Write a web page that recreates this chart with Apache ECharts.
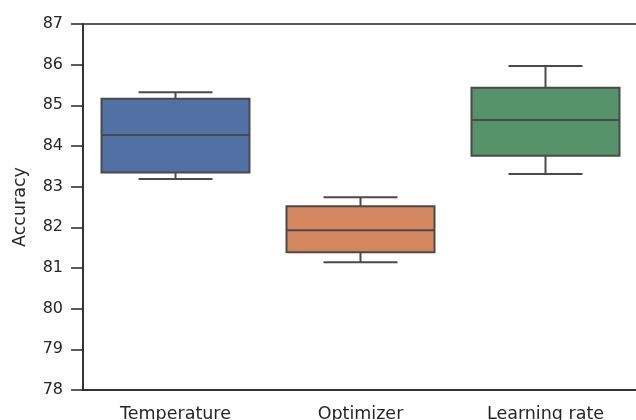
<!DOCTYPE html>
<html>
<head>
<meta charset="utf-8">
<script src="https://cdn.jsdelivr.net/npm/echarts@6/dist/echarts.min.js"></script>
<style>
  html, body { margin: 0; padding: 0; background: #fff; }
  #chart { width: 636px; height: 420px; }
</style>
</head>
<body>
<div id="chart"></div>
<script>
// categories and box stats
var categories = ['Temperature', 'Optimizer', 'Learning rate'];
// [lower whisker, Q1, median, Q3, upper whisker]
var boxStats = [
    [83.19, 83.35, 84.27, 85.16, 85.32],
    [81.14, 81.39, 81.93, 82.52, 82.74],
    [83.31, 83.76, 84.64, 85.43, 85.97]
];
var yTicks = [78, 79, 80, 81, 82, 83, 84, 85, 86, 87];

var boxColors = ['#5171a5', '#d4865f', '#56926a'];
var edgeColor = '#4a4a4a';

var seriesData = boxStats.map(function (s, i) {
    return [i].concat(s);
});

var dom = document.getElementById('chart');
var myChart = echarts.init(dom);

var option = {
    animation: false,
    grid: {
        left: 83,
        top: 24,
        width: 555,
        height: 366,
        outerBoundsMode: 'none',
        containLabel: false,
        show: true,
        borderColor: '#262626',
        borderWidth: 1.5,
        backgroundColor: 'transparent'
    },
    xAxis: {
        type: 'category',
        data: categories,
        axisLine: { lineStyle: { color: '#262626', width: 1.5 } },
        axisTick: { alignWithLabel: true, length: 9, lineStyle: { color: '#262626', width: 1.5 } },
        axisLabel: { fontFamily: 'DejaVu Sans', fontSize: 17.5, color: '#262626', margin: 15 },
        splitLine: { show: false }
    },
    yAxis: {
        type: 'value',
        min: yTicks[0],
        max: yTicks[yTicks.length - 1],
        interval: 1,
        name: 'Accuracy',
        nameLocation: 'middle',
        nameGap: 54,
        nameTextStyle: { fontFamily: 'DejaVu Sans', fontSize: 17.5, color: '#262626' },
        axisLine: { show: true, lineStyle: { color: '#262626', width: 1.5 } },
        axisTick: { show: true, length: 12, lineStyle: { color: '#262626', width: 1.5 } },
        axisLabel: { fontFamily: 'DejaVu Sans', fontSize: 16, color: '#262626', margin: 20 },
        splitLine: { show: false }
    },
    series: [{
        type: 'custom',
        data: seriesData,
        encode: { x: 0, y: [1, 2, 3, 4, 5] },
        renderItem: function (params, api) {
            var idx = api.value(0);
            var band = api.size([1, 0])[0];
            var half = band * 0.4;
            var capHalf = half / 2;
            var pLo = api.coord([idx, api.value(1)]);
            var pQ1 = api.coord([idx, api.value(2)]);
            var pMed = api.coord([idx, api.value(3)]);
            var pQ3 = api.coord([idx, api.value(4)]);
            var pHi = api.coord([idx, api.value(5)]);
            var cx = pMed[0];
            var line = { stroke: edgeColor, lineWidth: 2 };
            return {
                type: 'group',
                children: [
                    { type: 'line', shape: { x1: cx, y1: pQ1[1], x2: cx, y2: pLo[1] }, style: line },
                    { type: 'line', shape: { x1: cx, y1: pQ3[1], x2: cx, y2: pHi[1] }, style: line },
                    { type: 'line', shape: { x1: cx - capHalf, y1: pLo[1], x2: cx + capHalf, y2: pLo[1] }, style: line },
                    { type: 'line', shape: { x1: cx - capHalf, y1: pHi[1], x2: cx + capHalf, y2: pHi[1] }, style: line },
                    {
                        type: 'rect',
                        shape: { x: cx - half, y: pQ3[1], width: half * 2, height: pQ1[1] - pQ3[1] },
                        style: { fill: boxColors[params.dataIndex], stroke: edgeColor, lineWidth: 2 }
                    },
                    { type: 'line', shape: { x1: cx - half, y1: pMed[1], x2: cx + half, y2: pMed[1] }, style: line }
                ]
            };
        }
    }]
};

myChart.setOption(option, true);
</script>
</body>
</html>
